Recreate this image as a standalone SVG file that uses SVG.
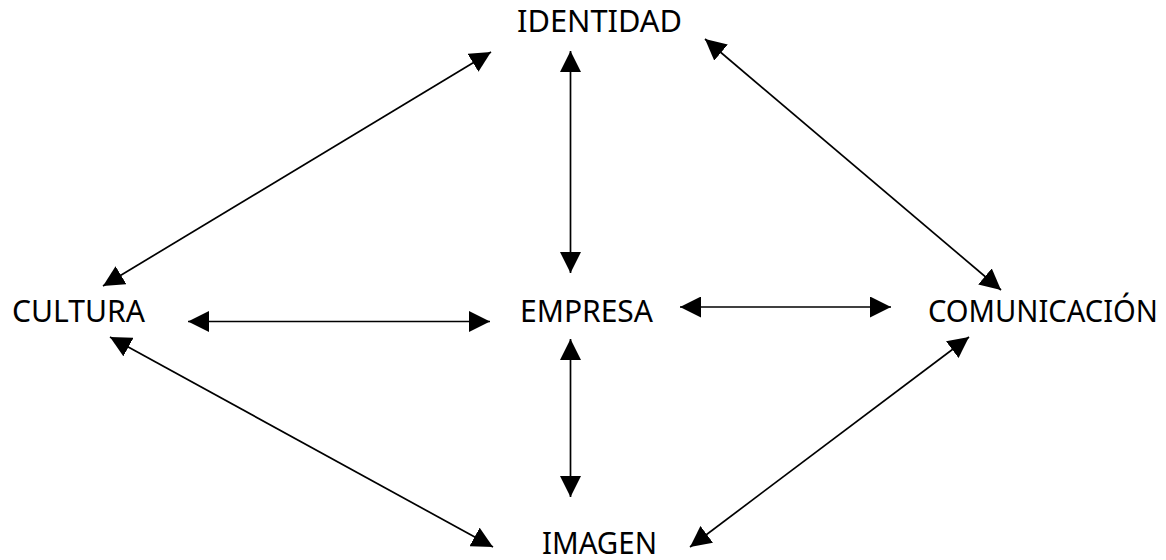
<svg xmlns="http://www.w3.org/2000/svg" width="1166" height="560" viewBox="0 0 1166 560">
  <style>
    .lbl { font-family: "Noto Sans", "DejaVu Sans", sans-serif; font-size: 30px; fill: #000; }
    .conn { stroke: #000; stroke-width: 1.7; fill: none; marker-start: url(#head); marker-end: url(#head); }
  </style>
  <defs>
    <marker id="head" viewBox="0 0 21 21" refX="21" refY="10.5" markerWidth="21" markerHeight="21" markerUnits="userSpaceOnUse" orient="auto-start-reverse">
      <path d="M0,0 L21,10.5 L0,21 Z" fill="#000"/>
    </marker>
  </defs>
  <rect width="1166" height="560" fill="#fff"/>

  <g id="connectors">
    <line class="conn" x1="570.5" y1="51" x2="570.5" y2="273"/>
    <line class="conn" x1="570.5" y1="339" x2="570.5" y2="497"/>
    <line class="conn" x1="188" y1="321.5" x2="490" y2="321.5"/>
    <line class="conn" x1="680" y1="307" x2="891" y2="307"/>
    <line class="conn" x1="103" y1="286" x2="491" y2="52"/>
    <line class="conn" x1="705" y1="39" x2="1001" y2="290"/>
    <line class="conn" x1="110" y1="337" x2="493" y2="547"/>
    <line class="conn" x1="690" y1="547" x2="969" y2="337"/>
  </g>

  <g id="identidad"><text class="lbl" x="517" y="32" textLength="165" lengthAdjust="spacingAndGlyphs">IDENTIDAD</text></g>
  <g id="cultura"><text class="lbl" x="12" y="322" textLength="133" lengthAdjust="spacingAndGlyphs">CULTURA</text></g>
  <g id="empresa"><text class="lbl" x="520" y="322" textLength="133" lengthAdjust="spacingAndGlyphs">EMPRESA</text></g>
  <g id="comunicacion"><text class="lbl" x="928" y="322" textLength="230" lengthAdjust="spacingAndGlyphs">COMUNICACIÓN</text></g>
  <g id="imagen"><text class="lbl" x="542" y="554" textLength="115" lengthAdjust="spacingAndGlyphs">IMAGEN</text></g>
</svg>
